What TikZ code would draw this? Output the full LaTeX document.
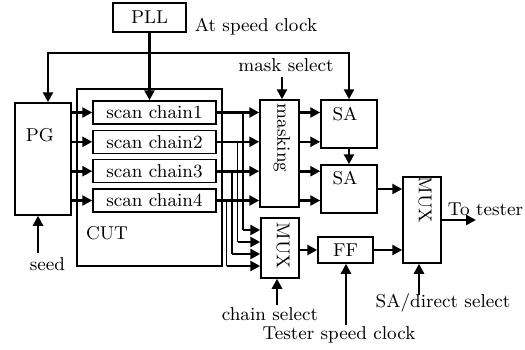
\documentclass[tikz,border=0pt]{standalone}
\usetikzlibrary{arrows.meta,calc}
\begin{document}
\begin{tikzpicture}[x=0.5pt,y=-0.5pt, font=\fontsize{9.3}{11}\selectfont,
  box/.style={draw, line width=0.75pt, inner sep=0pt},
  arr/.style={line width=1.3pt, -{Triangle[length=5pt,width=5pt]}},
  tap/.style={line width=0.6pt},
  lbl/.style={inner sep=0pt}]
\useasboundingbox (0,0) rectangle (525,349);
% boxes
\node[box, minimum width=36.5pt, minimum height=14.5pt] (pll) at (149.5,17.5) {PLL};
\node[lbl] (atspeed) at (256,27) {At speed clock};
\node[box, minimum width=28pt, minimum height=56pt] (pg) at (43,159) {};
\node[lbl] (pgl) at (40,135) {PG};
\node[box, minimum width=72.5pt, minimum height=88.5pt] (cut) at (149.5,177.5) {};
\node[lbl] (cutl) at (107,233) {CUT};
\foreach \i/\y in {1/112.5,2/141.8,3/171.2,4/200.5}
  \node[box, minimum width=61.5pt, minimum height=11.5pt] (ch\i) at (154.5,\y) {scan chain\i};
\node[box, minimum width=19.5pt, minimum height=53.5pt] (mask) at (279.5,153.5) {};
\node[lbl, rotate=-90] (maskl) at (282,138) {masking};
\node[box, minimum width=28pt, minimum height=24pt] (sa1) at (349,124) {};
\node[lbl] (sa1l) at (345,114) {SA};
\node[box, minimum width=28pt, minimum height=24pt] (sa2) at (349,189) {};
\node[lbl] (sa2l) at (345,178) {SA};
\node[box, minimum width=19pt, minimum height=30pt] (mux1) at (280,248) {};
\node[lbl, rotate=-90] (mux1l) at (283,246) {MUX};
\node[box, minimum width=27.5pt, minimum height=13pt] (ff) at (345.5,250) {FF};
\node[box, minimum width=19pt, minimum height=43pt] (mux2) at (422,220) {};
\node[lbl, rotate=-90] (mux2l) at (425,200) {MUX};
% text labels
\node[lbl] (masksel) at (286,65) {mask select};
\node[lbl] (seed) at (47.5,264) {seed};
\node[lbl] (chsel) at (270,314) {chain select};
\node[lbl] (tsc) at (339,335) {Tester speed clock};
\node[lbl] (sadir) at (443,303) {SA/direct select};
\node[lbl] (totester) at (485.5,209) {To tester};
% connectors
\draw[arr] (pll.south) -- (pll.south |- ch1.north);
\coordinate (fb) at (149.5,53);
\draw[arr] (fb) -| ($(pg.north)+(5,0)$);
\draw[arr] (fb) -| (sa1.north);
\coordinate (ms) at (282,77);
\draw[arr] (ms) -- (ms |- mask.north);
\foreach \i in {1,...,4} {
  \draw[arr] (pg.east |- ch\i.west) -- (ch\i.west);
  \draw[arr] (ch\i.east) -- (ch\i.east -| mask.west);
}
\draw[arr] (mask.east |- ch1.east) -- (ch1.east -| sa1.west);
\draw[arr] (mask.east |- ch2.east) -- (ch2.east -| sa1.west);
\draw[arr] (mask.east |- ch3.east) -- (ch3.east -| sa2.west);
\draw[arr] (mask.east |- ch4.east) -- (ch4.east -| sa2.west);
\foreach \i/\x/\y in {1/243/230,2/237.5/242,3/232/254,4/226.5/266} {
  \coordinate (t\i) at (\x,\y);
  \draw[tap] (t\i |- ch\i.east) -- (t\i);
  \draw[arr] (t\i) -- (t\i -| mux1.west);
}
\draw[arr] (sa1.south) -- (sa2.north);
\draw[arr] (sa2.east) -- (sa2.east -| mux2.west);
\draw[arr] (mux1.east |- ff.west) -- (ff.west);
\draw[arr] (ff.east) -- (ff.east -| mux2.west);
\coordinate (out) at (476,220);
\draw[arr] (mux2.east) -- (out);
\coordinate (sd) at (38,253);
\draw[arr] (sd) -- (sd |- pg.south);
\coordinate (cs) at (277,305);
\draw[arr] (cs) -- (cs |- mux1.south);
\coordinate (tc) at (346,325);
\draw[arr] (tc) -- (tc |- ff.south);
\coordinate (sdr) at (419,295);
\draw[arr] (sdr) -- (sdr |- mux2.south);
\end{tikzpicture}
\end{document}
